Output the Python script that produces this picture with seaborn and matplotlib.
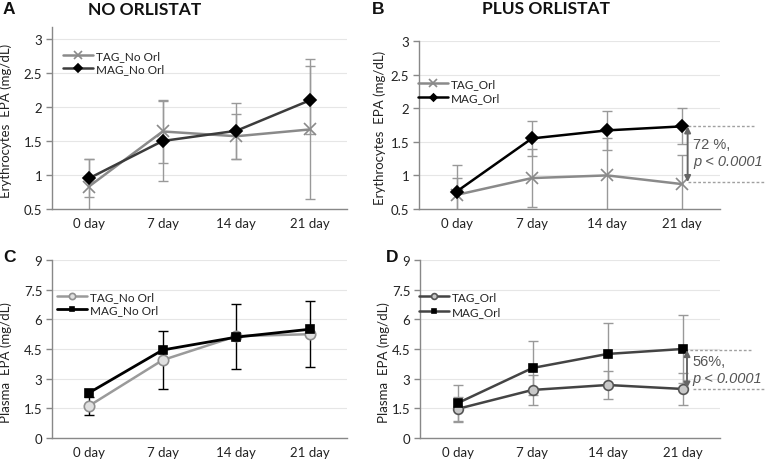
import numpy as np
import pandas as pd
import matplotlib
matplotlib.use("Agg")
import matplotlib.pyplot as plt
import seaborn as sns

# ---------------- data ----------------
days = ["0 day", "7 day", "14 day", "21 day"]

# Panel A: erythrocytes, no orlistat
a_tag = [0.83, 1.64, 1.57, 1.67]
a_tag_sd = [0.41, 0.47, 0.33, 1.03]
a_mag = [0.95, 1.50, 1.65, 2.10]
a_mag_sd = [0.28, 0.59, 0.41, 0.50]

# Panel B: erythrocytes, plus orlistat
b_tag = [0.71, 0.96, 1.00, 0.87]
b_tag_sd = [0.25, 0.43, 0.55, 0.43]
b_mag = [0.76, 1.55, 1.67, 1.73]
b_mag_sd = [0.39, 0.26, 0.29, 0.27]

# Panel C: plasma, no orlistat
c_tag = [1.62, 3.94, 5.15, 5.25]
c_tag_sd = [0.45, 1.47, 1.64, 1.67]
c_mag = [2.28, 4.45, 5.10, 5.50]

# Panel D: plasma, plus orlistat
d_tag = [1.47, 2.43, 2.68, 2.48]
d_tag_sd = [0.60, 0.76, 0.73, 0.82]
d_mag = [1.76, 3.54, 4.25, 4.50]
d_mag_sd = [0.93, 1.38, 1.56, 1.70]

sns.set_theme(style="white")
plt.rcParams["font.family"] = ["Lato", "DejaVu Sans"]

W, H = 766, 464
fig = plt.figure(figsize=(W / 100, H / 100), dpi=100)


def px_axes(left, right, top, bottom):
    return fig.add_axes([left / W, 1 - bottom / H, (right - left) / W, (bottom - top) / H])


axA = px_axes(52, 347, 28, 210)
axB = px_axes(419, 720, 42, 210)
axC = px_axes(52, 347, 261, 439)
axD = px_axes(420, 720, 261, 439)

pos = np.arange(len(days))


def style_axes(ax, ylim, yticks, yticklabels, ylabel, lab_x, lab_y):
    ax.set_xlim(-0.5, len(days) - 0.5)
    ax.set_ylim(*ylim)
    ax.set_yticks(yticks)
    ax.set_yticklabels(yticklabels, fontsize=9.5, color="#222222")
    ax.set_xticks(pos)
    ax.set_xticklabels(days, fontsize=9.5, color="#222222")
    ax.set_xticks(np.arange(-0.5, len(days), 1.0), minor=True)
    ax.tick_params(axis="x", which="major", length=0, pad=6)
    ax.tick_params(axis="x", which="minor", length=4, width=1, color="#888888", direction="out")
    ax.tick_params(axis="y", which="major", length=4, width=1, color="#888888", direction="out", left=True, pad=3)
    for s in ["top", "right"]:
        ax.spines[s].set_visible(False)
    for s in ["left", "bottom"]:
        ax.spines[s].set_color("#888888")
        ax.spines[s].set_linewidth(1.0)
    ax.yaxis.grid(True, color="#e6e6e6", linewidth=0.8)
    ax.set_axisbelow(True)
    ax.set_ylabel(ylabel, fontsize=9.5, color="#222222")
    ax.yaxis.set_label_coords(lab_x, lab_y)
    ax.set_xlabel("")


def draw_series(ax, vals, sd, label, color, marker, ms, mfc, mec, ecolor, lw=1.8, z=3):
    df = pd.DataFrame({"pos": pos, "val": vals})
    sns.lineplot(data=df, x="pos", y="val", ax=ax, color=color, linewidth=lw,
                 marker=marker, markersize=ms, markerfacecolor=mfc,
                 markeredgecolor=mec, markeredgewidth=1.2, label=label, zorder=z)
    if sd is not None:
        ax.errorbar(pos, vals, yerr=sd, fmt="none", ecolor=ecolor, elinewidth=1.0,
                    capsize=3.5, capthick=1.0, zorder=z - 1, clip_on=True)


# ---- Panel A ----
draw_series(axA, a_tag, a_tag_sd, "TAG_No Orl", "#8a8a8a", "x", 9, "#8a8a8a", "#8a8a8a", "#999999")
draw_series(axA, a_mag, a_mag_sd, "MAG_No Orl", "#3c3c3c", "D", 6.5, "black", "black", "#999999")
style_axes(axA, (0.5, 3.176), [0.5, 1, 1.5, 2, 2.5, 3], ["0.5", "1", "1.5", "2", "2.5", "3"],
           "Erythrocytes  EPA (mg/dL)", -0.135, 0.49)

# ---- Panel B ----
draw_series(axB, b_tag, b_tag_sd, "TAG_Orl", "#8a8a8a", "x", 9, "#8a8a8a", "#8a8a8a", "#999999")
draw_series(axB, b_mag, b_mag_sd, "MAG_Orl", "black", "D", 6, "black", "black", "#999999")
style_axes(axB, (0.5, 3.0), [0.5, 1, 1.5, 2, 2.5, 3], ["0.5", "1", "1.5", "2", "2.5", "3"],
           "Erythrocytes  EPA (mg/dL)", -0.11, 0.49)

# ---- Panel C ----
draw_series(axC, c_tag, c_tag_sd, "TAG_No Orl", "#9a9a9a", "o", 7.5, "#e0e0e0", "#909090", "black")
draw_series(axC, c_mag, None, "MAG_No Orl", "black", "s", 5.5, "black", "black", "black", lw=2.0, z=4)
style_axes(axC, (0, 9), [0, 1.5, 3, 4.5, 6, 7.5, 9], ["0", "1.5", "3", "4.5", "6", "7.5", "9"],
           "Plasma  EPA (mg/dL)", -0.135, 0.43)

# ---- Panel D ----
draw_series(axD, d_tag, d_tag_sd, "TAG_Orl", "#444444", "o", 7, "#c8c8c8", "#555555", "#999999")
draw_series(axD, d_mag, d_mag_sd, "MAG_Orl", "#444444", "s", 5.5, "black", "black", "#999999")
style_axes(axD, (0, 9), [0, 1.5, 3, 4.5, 6, 7.5, 9], ["0", "1.5", "3", "4.5", "6", "7.5", "9"],
           "Plasma  EPA (mg/dL)", -0.1, 0.43)

# legends
for ax, anchor, sp in [(axA, (0.02, 0.90), 0.15), (axB, (-0.02, 0.81), 0.3),
                       (axC, (0.0, 0.85), 0.15), (axD, (-0.02, 0.85), 0.35)]:
    leg = ax.legend(loc="upper left", bbox_to_anchor=anchor, frameon=False, fontsize=8.5,
                    handlelength=2.6, handletextpad=0.2, labelspacing=sp, borderaxespad=0,
                    markerscale=0.6)
    for t in leg.get_texts():
        t.set_color("#222222")

# annotations (B and D)
ann_col = "#666666"


def significance(ax, top, bottom, x_arrow, x0_top, x1_top, x0_bot, x1_bot, line1, y1, y2):
    ax.plot([x0_top, x1_top], [top, top], ls=(0, (2, 1.5)), color="#a0a0a0", lw=1.0, clip_on=False, zorder=2)
    ax.plot([x0_bot, x1_bot], [bottom, bottom], ls=(0, (2, 1.5)), color="#a0a0a0", lw=1.0, clip_on=False, zorder=2)
    ax.annotate("", xy=(x_arrow, bottom), xytext=(x_arrow, top),
                arrowprops=dict(arrowstyle="<|-|>", color=ann_col, lw=1.4, mutation_scale=9,
                                shrinkA=0, shrinkB=0), annotation_clip=False)
    ax.text(x_arrow + 0.07, y1, line1, fontsize=10.5, color="#555555", family="Liberation Sans",
            va="center", ha="left", clip_on=False)
    ax.text(x_arrow + 0.07, y2, "p < 0.0001", fontsize=10.5, color="#555555", family="Liberation Sans",
            style="italic", va="center", ha="left", clip_on=False)


significance(axB, 1.73, 0.90, 3.07, 3.07, 3.98, 3.07, 4.11, "72 %,", 1.47, 1.21)
significance(axD, 4.45, 2.50, 3.06, 3.03, 3.94, 3.14, 4.11, "56%,", 3.9, 3.03)

# titles and panel letters
fig.text(145 / W, 1 - 10 / H, "NO ORLISTAT", fontsize=12.5, fontweight="bold", ha="center", va="center", color="#111111")
fig.text(546 / W, 1 - 9 / H, "PLUS ORLISTAT", fontsize=12.5, fontweight="bold", ha="center", va="center", color="#111111")
for lbl, x, y in [("A", 9, 10), ("B", 378, 10), ("C", 10, 258), ("D", 392, 258)]:
    fig.text(x / W, 1 - y / H, lbl, fontsize=12.5, fontweight="bold", ha="center", va="center",
             family="Liberation Sans", color="#111111")

fig.savefig("out.png", dpi=100)
